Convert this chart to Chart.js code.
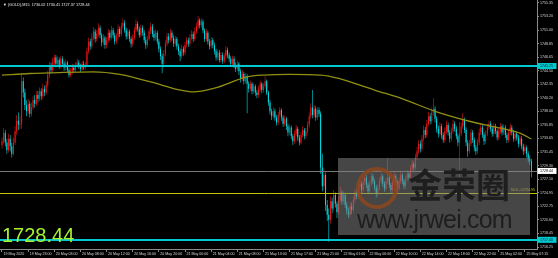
<!DOCTYPE html>
<html><head><meta charset="utf-8">
<script src="https://cdn.jsdelivr.net/npm/chart.js@4.4.1/dist/chart.umd.min.js"></script>
<style>
html,body{margin:0;padding:0;background:#000;overflow:hidden;}
#wrap{position:relative;width:558px;height:258px;background:#000;}
#c{position:absolute;left:0;top:0;}
#wm{position:absolute;left:338px;top:158px;width:192px;height:77px;background:rgba(128,128,128,0.55);pointer-events:none;overflow:hidden;}
#wm .logo{position:absolute;left:18px;top:9px;width:34px;height:34px;border:4px solid rgba(140,70,30,0.85);border-radius:50%;}
#wm .w1{position:absolute;left:70px;top:9px;font:bold 34px/34px "Noto Sans CJK SC";color:#1e1e1e;white-space:nowrap;}
#wm .w2{position:absolute;left:19px;top:49px;font:25px/25px "Liberation Sans";letter-spacing:-0.8px;color:#1e1e1e;white-space:nowrap;}
</style></head><body>
<div id="wrap"><canvas id="c" width="558" height="258"></canvas>
<div id="wm"><div class="logo"></div><div class="w1">金荣圈</div><div class="w2">www.jrwei.com</div></div>
</div>
<script>
const symbolName = "(GOLD),M15";
const opens = [
1732.6,1733.2,1734.5,1733.0,1731.8,1733.6,1732.4,1731.2,1733.0,1734.8,
1736.5,1735.9,1736.0,1742.8,1741.0,1739.0,1738.0,1739.2,1737.6,1738.6,
1739.8,1739.2,1740.6,1740.0,1741.2,1740.4,1741.6,1741.0,1742.2,1743.8,
1745.2,1744.6,1745.8,1746.6,1745.6,1746.2,1745.2,1746.4,1745.6,1745.0,
1745.8,1744.6,1743.8,1744.4,1745.0,1744.6,1745.4,1745.8,1745.2,1744.8,
1745.6,1745.0,1745.4,1747.6,1749.2,1748.4,1749.8,1750.8,1749.6,1750.4,
1751.4,1750.2,1749.0,1749.8,1748.6,1749.4,1750.6,1749.8,1751.0,1750.2,
1749.2,1750.0,1751.2,1750.4,1751.6,1752.2,1751.0,1750.0,1750.8,1749.6,
1748.8,1749.8,1751.0,1752.0,1751.2,1750.2,1751.4,1750.6,1749.4,1748.6,
1749.6,1750.8,1751.6,1750.4,1749.8,1750.6,1749.2,1748.0,1746.8,1745.6,
1747.2,1748.8,1750.0,1749.4,1750.6,1749.8,1748.8,1749.6,1748.4,1747.6,
1746.8,1748.0,1747.4,1748.6,1749.4,1748.8,1749.8,1750.4,1749.6,1750.8,
1751.6,1752.6,1751.8,1752.4,1751.0,1749.6,1750.6,1749.2,1748.4,1749.4,
1748.6,1747.6,1746.6,1747.4,1746.2,1747.0,1746.0,1746.8,1747.8,1747.0,
1746.4,1745.6,1746.4,1745.4,1744.8,1745.6,1744.4,1743.2,1744.0,1742.8,
1743.6,1742.4,1741.6,1742.4,1741.2,1742.0,1741.0,1740.6,1741.6,1742.4,
1741.4,1742.0,1742.8,1741.0,1739.4,1738.0,1737.2,1738.0,1737.0,1736.2,
1737.4,1738.2,1737.0,1736.0,1736.8,1735.6,1734.6,1735.4,1734.0,1733.2,
1734.4,1735.2,1733.8,1733.0,1734.2,1735.0,1734.0,1734.8,1735.8,1737.2,
1738.6,1737.4,1738.4,1737.0,1738.2,1737.6,1729.0,1726.0,1727.8,1723.0,
1721.4,1720.6,1723.6,1722.4,1724.6,1723.2,1721.8,1723.8,1725.0,1723.6,
1724.6,1723.0,1722.0,1721.4,1722.8,1722.2,1723.8,1725.0,1724.4,1725.8,
1726.4,1725.4,1726.6,1727.4,1726.2,1725.2,1726.4,1727.6,1726.8,1725.8,
1724.8,1725.8,1726.8,1727.6,1726.4,1725.6,1726.8,1727.4,1726.2,1725.4,
1726.6,1727.6,1726.6,1725.6,1726.8,1727.8,1726.8,1726.0,1727.2,1728.0,
1727.4,1728.8,1729.6,1729.0,1730.6,1731.6,1732.8,1732.0,1733.6,1735.0,
1734.2,1736.0,1737.2,1736.4,1737.8,1738.4,1736.8,1735.2,1734.4,1735.6,
1734.2,1733.4,1734.8,1735.8,1734.6,1733.6,1734.8,1736.0,1735.2,1734.0,
1733.0,1734.4,1735.6,1736.6,1735.0,1733.0,1731.6,1732.8,1734.6,1733.4,
1732.2,1731.6,1733.0,1734.6,1735.4,1734.2,1733.2,1734.4,1735.4,1736.0,
1735.2,1734.4,1735.6,1734.8,1733.8,1734.8,1735.6,1734.6,1735.4,1734.2,
1733.4,1734.6,1735.4,1734.6,1733.6,1734.4,1733.8,1732.8,1733.6,1732.4,
1731.6,1732.2,1731.2,1730.4,1730.02];
const highs = [
1733.8,1735.3,1735.0,1733.6,1734.4,1734.2,1732.9,1733.8,1735.6,1737.4,
1737.8,1737.2,1744.1,1743.4,1741.6,1739.8,1740.0,1739.7,1739.4,1740.4,
1740.6,1741.2,1741.3,1741.8,1741.7,1742.4,1742.1,1742.8,1744.5,1745.9,
1745.8,1746.6,1747.1,1747.0,1746.8,1746.6,1746.9,1746.8,1746.0,1746.3,
1746.1,1745.0,1744.9,1745.6,1745.5,1745.9,1746.4,1746.2,1745.6,1746.0,
1746.1,1745.9,1748.2,1749.8,1749.6,1750.5,1751.5,1751.2,1751.0,1752.1,
1751.8,1750.6,1750.4,1750.1,1749.9,1751.2,1751.0,1751.7,1751.4,1750.6,
1750.5,1751.9,1751.6,1752.2,1752.9,1752.6,1751.4,1751.3,1751.1,1750.0,
1750.3,1751.5,1752.7,1752.4,1751.6,1751.9,1751.8,1751.0,1749.9,1750.1,
1751.3,1752.2,1752.0,1750.9,1751.1,1750.9,1749.6,1748.4,1747.2,1747.8,
1749.4,1750.6,1750.5,1751.2,1751.0,1750.2,1750.1,1749.9,1748.8,1748.0,
1748.6,1748.4,1749.1,1749.9,1749.8,1750.4,1751.0,1750.8,1751.4,1752.2,
1753.3,1752.9,1752.9,1752.7,1751.3,1751.2,1750.9,1749.6,1749.9,1749.8,
1749.0,1748.0,1747.9,1747.8,1747.5,1747.4,1747.3,1748.4,1748.2,1747.4,
1746.8,1746.9,1746.8,1745.8,1746.1,1745.9,1744.8,1744.6,1744.3,1744.1,
1744.0,1742.8,1742.9,1742.7,1742.5,1742.3,1741.4,1742.1,1742.9,1742.7,
1742.5,1743.6,1743.1,1741.3,1739.8,1738.4,1738.6,1738.4,1737.4,1737.9,
1738.7,1738.5,1737.4,1737.3,1737.1,1736.0,1735.9,1735.7,1734.4,1734.9,
1735.8,1735.5,1734.2,1734.7,1735.6,1735.3,1735.3,1736.4,1737.8,1739.3,
1741.4,1739.0,1738.8,1738.7,1738.6,1738.0,1731.2,1729.0,1728.2,1723.8,
1722.4,1724.4,1724.2,1725.4,1725.0,1723.6,1724.4,1725.9,1725.4,1725.2,
1725.0,1723.5,1722.6,1723.4,1723.4,1724.4,1725.6,1725.5,1726.4,1727.0,
1726.8,1727.2,1728.1,1727.8,1726.6,1726.9,1728.2,1728.0,1727.2,1726.2,
1726.3,1727.4,1728.2,1727.9,1726.8,1727.3,1730.5,1727.8,1726.6,1727.1,
1728.3,1727.9,1727.0,1727.4,1728.5,1728.1,1727.2,1727.7,1728.6,1728.4,
1729.4,1730.2,1730.0,1731.2,1732.3,1733.4,1733.3,1734.2,1735.7,1735.5,
1736.6,1737.9,1737.7,1738.6,1740.1,1738.8,1737.2,1735.7,1736.2,1736.0,
1734.6,1735.4,1736.5,1736.2,1735.0,1735.4,1736.6,1736.4,1735.6,1734.4,
1736.3,1736.2,1737.7,1737.0,1735.4,1733.4,1733.4,1735.2,1735.0,1733.8,
1732.6,1733.6,1735.2,1736.0,1735.8,1734.6,1734.9,1736.0,1736.5,1736.4,
1735.6,1736.1,1736.0,1735.2,1735.3,1736.1,1736.0,1735.9,1735.8,1734.6,
1735.1,1736.0,1735.8,1735.0,1734.9,1734.8,1734.2,1734.1,1734.0,1732.8,
1732.7,1732.5,1731.6,1730.9,1730.41];
const lows = [
1732.0,1732.8,1732.4,1731.2,1731.4,1731.6,1730.6,1730.9,1732.6,1734.2,
1735.0,1735.1,1735.2,1740.2,1738.2,1737.2,1737.6,1737.0,1737.2,1738.2,
1738.6,1738.9,1739.4,1739.6,1739.8,1740.0,1740.4,1740.6,1741.8,1743.3,
1744.0,1744.2,1745.3,1745.0,1745.2,1744.8,1744.9,1745.1,1744.5,1744.6,
1744.2,1743.4,1743.5,1744.0,1744.2,1744.3,1745.0,1744.8,1744.3,1744.5,
1744.6,1744.7,1745.1,1747.2,1747.9,1748.0,1749.4,1749.0,1749.2,1750.0,
1749.7,1748.4,1748.6,1748.0,1748.1,1749.0,1749.3,1749.5,1749.7,1748.7,
1748.8,1749.6,1749.9,1750.0,1751.2,1750.6,1749.5,1749.6,1749.1,1748.2,
1748.4,1749.4,1750.7,1750.8,1749.8,1749.9,1750.1,1748.9,1748.0,1748.2,
1749.3,1750.4,1749.9,1749.3,1749.4,1748.7,1747.4,1746.2,1744.1,1745.0,
1746.8,1748.4,1748.9,1749.0,1749.3,1748.3,1748.4,1747.9,1747.0,1746.0,
1746.4,1746.9,1747.0,1748.2,1748.3,1748.5,1749.4,1749.1,1749.3,1750.4,
1751.2,1751.3,1751.4,1750.5,1749.1,1749.2,1748.7,1747.9,1748.0,1748.1,
1747.1,1746.1,1746.2,1745.8,1745.9,1745.6,1745.7,1746.4,1746.5,1745.9,
1745.1,1745.2,1744.9,1744.3,1744.4,1743.8,1742.6,1742.8,1742.3,1742.4,
1737.7,1741.0,1741.2,1740.7,1740.8,1740.5,1740.1,1740.2,1741.2,1740.9,
1741.0,1741.6,1740.6,1738.9,1737.5,1736.6,1736.8,1736.5,1735.7,1735.8,
1737.0,1736.5,1735.5,1735.6,1735.0,1734.0,1734.2,1733.5,1732.6,1732.8,
1734.0,1733.3,1732.5,1732.7,1733.8,1733.5,1733.6,1734.4,1735.4,1736.8,
1736.9,1737.0,1736.5,1736.6,1737.1,1728.0,1725.2,1725.4,1722.0,1720.4,
1717.1,1720.0,1721.6,1722.0,1722.6,1720.9,1721.4,1723.4,1723.0,1723.1,
1722.5,1721.4,1720.9,1721.0,1721.5,1721.8,1723.4,1723.9,1724.0,1725.3,
1724.9,1725.0,1726.2,1725.7,1724.7,1724.8,1726.0,1726.3,1725.3,1724.2,
1724.4,1725.4,1726.4,1725.9,1725.1,1725.2,1726.4,1725.7,1724.9,1725.0,
1726.2,1726.1,1725.0,1725.2,1726.4,1726.3,1725.5,1725.6,1726.8,1726.9,
1727.0,1728.4,1728.5,1728.6,1730.2,1731.2,1731.4,1731.6,1733.2,1733.7,
1733.8,1735.6,1735.9,1736.0,1737.3,1736.2,1734.6,1733.8,1734.0,1733.6,
1732.9,1733.0,1734.4,1734.1,1733.0,1733.2,1734.4,1734.7,1733.5,1732.4,
1725.0,1734.0,1735.2,1734.5,1732.4,1730.7,1731.2,1732.4,1732.9,1731.6,
1731.0,1731.2,1732.6,1734.2,1733.7,1732.6,1732.8,1734.0,1735.0,1734.7,
1733.9,1734.0,1734.3,1733.3,1733.4,1734.4,1734.1,1734.2,1733.7,1732.9,
1733.0,1734.2,1734.1,1733.1,1733.2,1733.3,1732.2,1732.4,1731.9,1731.0,
1731.2,1730.6,1729.8,1729.4,1727.37];
const closes = [
1733.2,1734.5,1733.0,1731.8,1733.6,1732.4,1731.2,1733.0,1734.8,1736.5,
1735.9,1736.0,1742.8,1741.0,1739.0,1738.0,1739.2,1737.6,1738.6,1739.8,
1739.2,1740.6,1740.0,1741.2,1740.4,1741.6,1741.0,1742.2,1743.8,1745.2,
1744.6,1745.8,1746.6,1745.6,1746.2,1745.2,1746.4,1745.6,1745.0,1745.8,
1744.6,1743.8,1744.4,1745.0,1744.6,1745.4,1745.8,1745.2,1744.8,1745.6,
1745.0,1745.4,1747.6,1749.2,1748.4,1749.8,1750.8,1749.6,1750.4,1751.4,
1750.2,1749.0,1749.8,1748.6,1749.4,1750.6,1749.8,1751.0,1750.2,1749.2,
1750.0,1751.2,1750.4,1751.6,1752.2,1751.0,1750.0,1750.8,1749.6,1748.8,
1749.8,1751.0,1752.0,1751.2,1750.2,1751.4,1750.6,1749.4,1748.6,1749.6,
1750.8,1751.6,1750.4,1749.8,1750.6,1749.2,1748.0,1746.8,1745.6,1747.2,
1748.8,1750.0,1749.4,1750.6,1749.8,1748.8,1749.6,1748.4,1747.6,1746.8,
1748.0,1747.4,1748.6,1749.4,1748.8,1749.8,1750.4,1749.6,1750.8,1751.6,
1752.6,1751.8,1752.4,1751.0,1749.6,1750.6,1749.2,1748.4,1749.4,1748.6,
1747.6,1746.6,1747.4,1746.2,1747.0,1746.0,1746.8,1747.8,1747.0,1746.4,
1745.6,1746.4,1745.4,1744.8,1745.6,1744.4,1743.2,1744.0,1742.8,1743.6,
1742.4,1741.6,1742.4,1741.2,1742.0,1741.0,1740.6,1741.6,1742.4,1741.4,
1742.0,1742.8,1741.0,1739.4,1738.0,1737.2,1738.0,1737.0,1736.2,1737.4,
1738.2,1737.0,1736.0,1736.8,1735.6,1734.6,1735.4,1734.0,1733.2,1734.4,
1735.2,1733.8,1733.0,1734.2,1735.0,1734.0,1734.8,1735.8,1737.2,1738.6,
1737.4,1738.4,1737.0,1738.2,1737.6,1729.0,1726.0,1727.8,1723.0,1721.4,
1720.6,1723.6,1722.4,1724.6,1723.2,1721.8,1723.8,1725.0,1723.6,1724.6,
1723.0,1722.0,1721.4,1722.8,1722.2,1723.8,1725.0,1724.4,1725.8,1726.4,
1725.4,1726.6,1727.4,1726.2,1725.2,1726.4,1727.6,1726.8,1725.8,1724.8,
1725.8,1726.8,1727.6,1726.4,1725.6,1726.8,1727.4,1726.2,1725.4,1726.6,
1727.6,1726.6,1725.6,1726.8,1727.8,1726.8,1726.0,1727.2,1728.0,1727.4,
1728.8,1729.6,1729.0,1730.6,1731.6,1732.8,1732.0,1733.6,1735.0,1734.2,
1736.0,1737.2,1736.4,1737.8,1738.4,1736.8,1735.2,1734.4,1735.6,1734.2,
1733.4,1734.8,1735.8,1734.6,1733.6,1734.8,1736.0,1735.2,1734.0,1733.0,
1734.4,1735.6,1736.6,1735.0,1733.0,1731.6,1732.8,1734.6,1733.4,1732.2,
1731.6,1733.0,1734.6,1735.4,1734.2,1733.2,1734.4,1735.4,1736.0,1735.2,
1734.4,1735.6,1734.8,1733.8,1734.8,1735.6,1734.6,1735.4,1734.2,1733.4,
1734.6,1735.4,1734.6,1733.6,1734.4,1733.8,1732.8,1733.6,1732.4,1731.6,
1732.2,1731.2,1730.4,1730.0,1728.44];

// moving average read at sparse bar positions
const maIndex = [0,17,35,56,72,91,109,117,130,150,160,176,195,207,219,228,244,266,286,305,317,324];
const maValues = [1743.8,1744.05,1744.2,1744.3,1743.9,1742.7,1741.4,1741.1,1741.7,1743.5,1743.8,1743.9,1743.8,1743.2,1742.2,1741.4,1740.1,1737.9,1736.4,1735.3,1734.5,1733.55];

const yTicks = [1755.35,1753.20,1751.00,1748.85,1746.65,1744.50,1742.35,1740.20,1738.00,1735.85,1733.65,1731.45,1729.30,1727.10,1724.95,1722.75,1720.60,1718.45,1716.25];
const xTickIndex = [0,16,32,48,64,80,96,112,128,144,160,176,192,208,224,240,256,272,288,304,320];
const xTickLabels = ["19 May 2020","19 May 23:00","20 May 03:00","20 May 08:00","20 May 12:00","20 May 16:00","20 May 20:00","21 May 00:00","21 May 04:00","21 May 08:00","21 May 13:00","21 May 17:00","21 May 21:00","22 May 01:00","22 May 06:00","22 May 10:00","22 May 14:00","22 May 18:00","22 May 22:00","25 May 02:00","25 May 07:15"];

const hLevels = [1745.25, 1717.40];
const fibLevel = 1724.95;
const fibText = "50.0 ->1724.95";

const yRange = [1715.93, 1755.83];
const xRange = [-1.22, 327.4];

// ---------- rendering ----------
const last = closes.length - 1;
const bidPrice = closes[last];
const RED = '#f01414', CYAN = '#00dce6';
const candleColors = closes.map((c, i) => c >= opens[i] ? RED : CYAN);
const FONT = '"Liberation Sans", Arial, sans-serif';

const mtPlugin = {
  id: 'mt',
  afterDatasetsDraw(chart) {
    const {ctx, chartArea: a, scales: {y}} = chart;
    ctx.save();
    const hline = (v, color, w) => {
      const py = Math.round(y.getPixelForValue(v)) + (w % 2 ? 0.5 : 0);
      ctx.strokeStyle = color; ctx.lineWidth = w;
      ctx.beginPath(); ctx.moveTo(a.left, py); ctx.lineTo(a.right, py); ctx.stroke();
    };
    hline(bidPrice, '#777777', 1);
    hline(fibLevel, '#c4c400', 1);
    hLevels.forEach(v => hline(v, '#00c8d0', 2));
    ctx.font = '3.6px ' + FONT; ctx.fillStyle = '#d0d000';
    ctx.textAlign = 'right'; ctx.textBaseline = 'bottom';
    ctx.fillText(fibText, a.right - 2, y.getPixelForValue(fibLevel) - 0.5);
    ctx.restore();
  },
  afterDraw(chart) {
    const {ctx, chartArea: a, scales: {y}} = chart;
    ctx.save();
    const box = (v, bg, fg) => {
      const py = y.getPixelForValue(v);
      ctx.fillStyle = bg; ctx.fillRect(a.right + 0.5, py - 3, 19, 6);
      ctx.fillStyle = fg; ctx.font = '3.6px ' + FONT;
      ctx.textAlign = 'left'; ctx.textBaseline = 'middle';
      ctx.fillText(v.toFixed(2), a.right + 3, py + 0.2);
    };
    hLevels.forEach(v => box(v, '#00c8d0', '#002020'));
    box(bidPrice, '#ffffff', '#000000');
    // title
    ctx.font = '3.8px ' + FONT; ctx.fillStyle = '#e8e8e8';
    ctx.textAlign = 'left'; ctx.textBaseline = 'middle';
    const title = '\u25BC ' + symbolName + '  ' + [opens[last], highs[last], lows[last], closes[last]].map(v => v.toFixed(2)).join(' ');
    ctx.fillText(title, 3, 5);
    // big price
    ctx.font = '20px ' + FONT; ctx.fillStyle = '#a6f22e';
    ctx.textBaseline = 'alphabetic';
    ctx.fillText(bidPrice.toFixed(2), 2, 242);
    ctx.restore();
  }
};

new Chart(document.getElementById('c'), {
  type: 'bar',
  data: {
    datasets: [
      { type: 'line', label: 'MA', order: 0,
        data: maIndex.map((x, k) => ({x, y: maValues[k]})),
        borderColor: '#8f8f12', borderWidth: 1.3, pointRadius: 0,
        cubicInterpolationMode: 'monotone', fill: false },
      { label: 'body', order: 1, grouped: false, barThickness: 1.05, borderWidth: 0,
        inflateAmount: 0,
        data: closes.map((c, i) => ({x: i, y: [opens[i], c]})),
        backgroundColor: candleColors },
      { label: 'wick', order: 2, grouped: false, barThickness: 0.6, borderWidth: 0,
        inflateAmount: 0,
        data: closes.map((c, i) => ({x: i, y: [lows[i], highs[i]]})),
        backgroundColor: candleColors }
    ]
  },
  options: {
    responsive: false, maintainAspectRatio: false, animation: false,
    devicePixelRatio: 1, events: [],
    layout: { padding: 0 },
    plugins: { legend: { display: false }, tooltip: { enabled: false } },
    scales: {
      x: {
        type: 'linear', min: xRange[0], max: xRange[1], offset: false,
        afterBuildTicks: s => { s.ticks = xTickIndex.map(v => ({value: v})); },
        afterFit: s => { s.height = 9; s.paddingLeft = 0; s.paddingRight = 0; },
        ticks: { color: '#d8d8d8', font: { size: 3.6, family: FONT }, align: 'start',
          maxRotation: 0, autoSkip: false, padding: 0, labelOffset: 1.5,
          callback: (v, k) => xTickLabels[k] },
        grid: { drawOnChartArea: false, color: '#8a8a8a', tickLength: 3, offset: false },
        border: { color: '#8a8a8a', width: 1 }
      },
      y: {
        position: 'right', min: yRange[0], max: yRange[1],
        afterBuildTicks: s => { s.ticks = yTicks.map(v => ({value: v})); },
        afterFit: s => { s.width = 21; s.paddingTop = 0; s.paddingBottom = 0; },
        ticks: { color: '#d8d8d8', font: { size: 3.6, family: FONT }, padding: 1,
          autoSkip: false, callback: v => v.toFixed(2) },
        grid: { drawOnChartArea: false, color: '#8a8a8a', tickLength: 2 },
        border: { color: '#8a8a8a', width: 1 }
      }
    }
  },
  plugins: [mtPlugin]
});
</script>
</body></html>
